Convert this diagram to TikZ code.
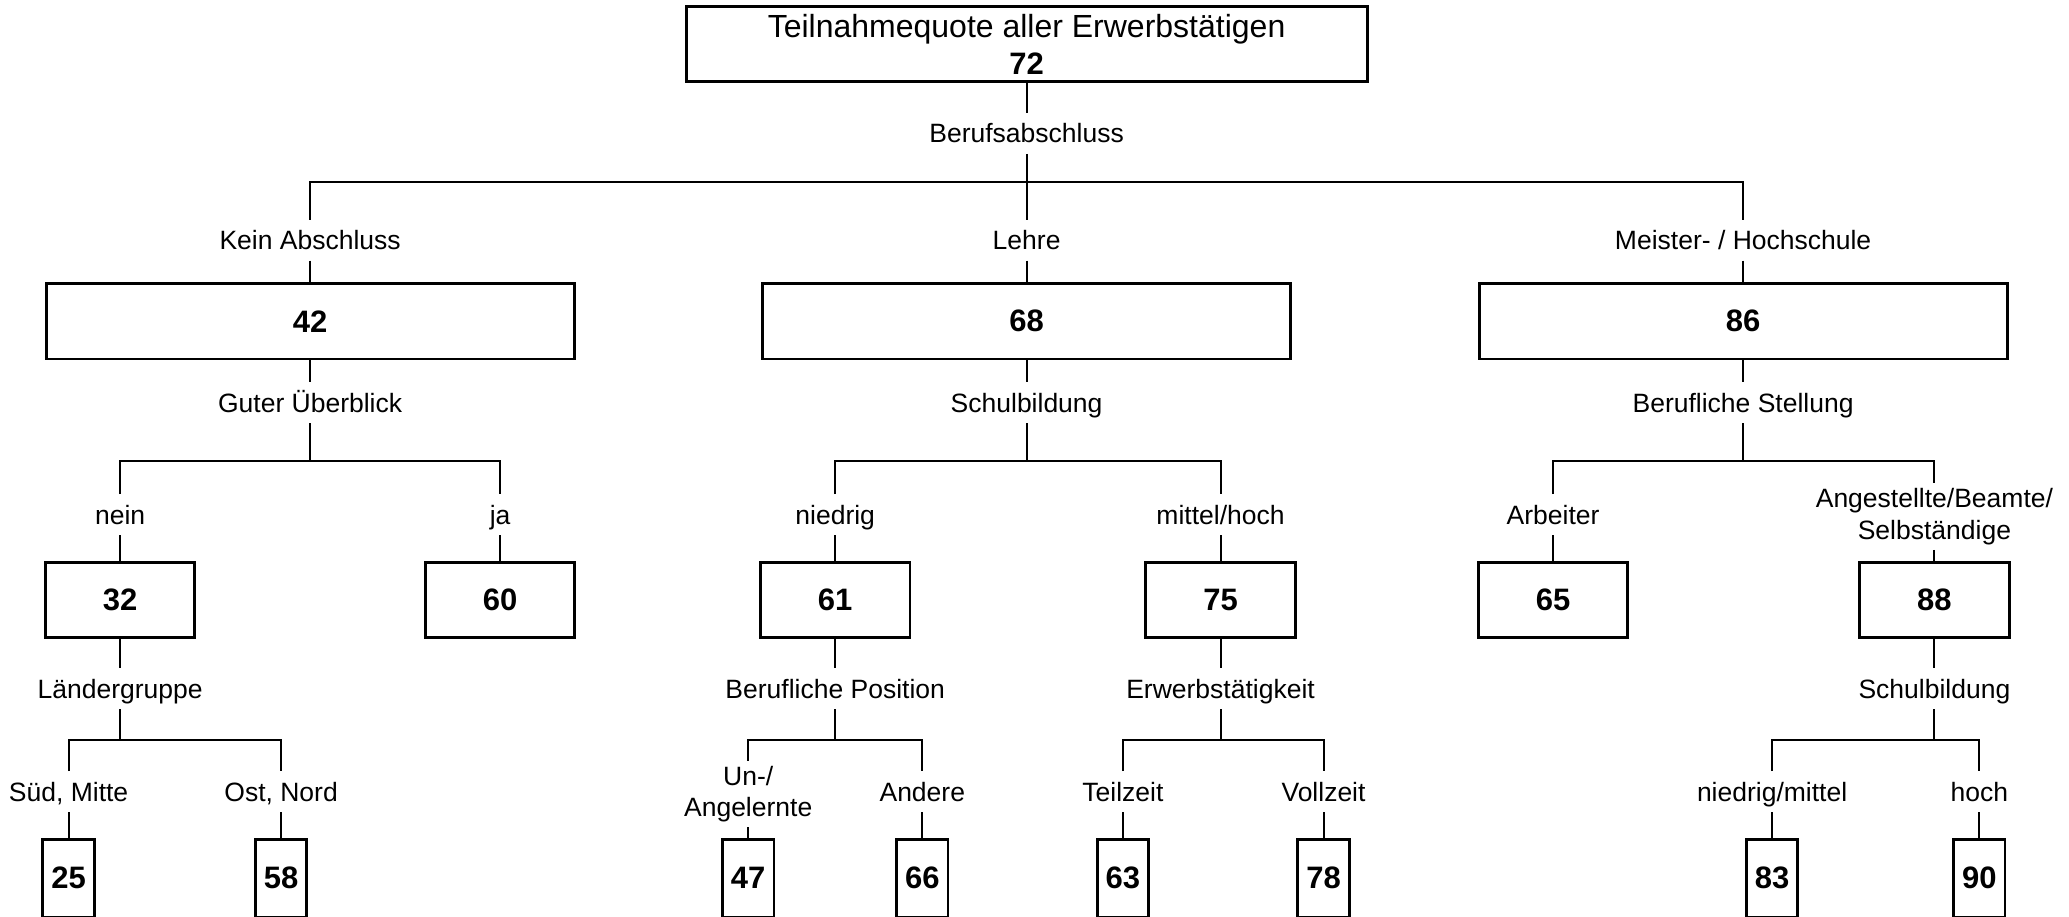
\documentclass[tikz,border=0pt]{standalone}
\usepackage{fontspec}
\setmainfont{Liberation Sans}
\begin{document}
\begin{tikzpicture}[x=1pt,y=-1pt,
  box/.style={draw, line width=2.8pt, inner sep=0pt, font=\fontsize{31}{37}\selectfont\bfseries},
  lab/.style={font=\fontsize{26.5}{31.6}\selectfont, inner sep=5pt, text height=24.9pt, text depth=5.9pt},
  labm/.style={font=\fontsize{26.5}{31.6}\selectfont, inner sep=5pt, align=center},
  conn/.style={line width=2pt}]
\useasboundingbox (0,0) rectangle (2069,916);
\clip (0,0) rectangle (2069,916);
% top
\node[box, minimum width=681, minimum height=75, align=center] (top) at (1026.6,44.2)
  {{\mdseries\fontsize{32}{37}\selectfont Teilnahmequote aller Erwerbstätigen}\\72};
\node[lab] (berufs) at (1026.6,133.3) {Berufsabschluss};
\coordinate (j0) at (1026.6,182.1);
\node[lab] (kein) at (310.1,240.1) {Kein Abschluss};
\node[lab] (lehre) at (1026.6,240.1) {Lehre};
\node[lab] (meister) at (1743.1,240.1) {Meister- / Hochschule};
\draw[conn] (top) -- (berufs);
\draw[conn] (berufs) -- (j0);
\draw[conn] (kein.north) |- (j0) -| (meister.north);
\draw[conn] (j0) -- (lehre);
% level 1 boxes
\node[box, minimum width=528, minimum height=75.2] (b42) at (310.1,321.3) {42};
\node[box, minimum width=528, minimum height=75.2] (b68) at (1026.6,321.3) {68};
\node[box, minimum width=528, minimum height=75.2] (b86) at (1743.1,321.3) {86};
\draw[conn] (kein) -- (b42);
\draw[conn] (lehre) -- (b68);
\draw[conn] (meister) -- (b86);
% level 1 labels
\node[lab] (guter) at (310.1,402.5) {Guter Überblick};
\node[lab] (schulA) at (1026.6,402.5) {Schulbildung};
\node[lab] (stell) at (1743.1,402.5) {Berufliche Stellung};
\draw[conn] (b42) -- (guter);
\draw[conn] (b68) -- (schulA);
\draw[conn] (b86) -- (stell);
\coordinate (j1) at (310.1,460.5);
\coordinate (j2) at (1026.6,460.5);
\coordinate (j3) at (1743.1,460.5);
\draw[conn] (guter) -- (j1);
\draw[conn] (schulA) -- (j2);
\draw[conn] (stell) -- (j3);
\node[lab] (nein) at (120.1,514.6) {nein};
\node[lab] (ja) at (500.1,514.6) {ja};
\node[lab] (niedrig) at (835.2,514.6) {niedrig};
\node[lab] (mittel) at (1220.5,514.6) {mittel/hoch};
\node[lab] (arbeiter) at (1553.1,514.6) {Arbeiter};
\node[labm] (angest) at (1934.4,516.6) {Angestellte/Beamte/\\Selbständige};
\draw[conn] (nein.north) |- (j1) -| (ja.north);
\draw[conn] (niedrig.north) |- (j2) -| (mittel.north);
\draw[conn] (arbeiter.north) |- (j3) -| (angest.north);
% level 2 boxes
\node[box, minimum width=149.5, minimum height=75.2] (b32) at (120.1,599.7) {32};
\node[box, minimum width=149.5, minimum height=75.2] (b60) at (500.1,599.7) {60};
\node[box, minimum width=149.5, minimum height=75.2] (b61) at (835.2,599.7) {61};
\node[box, minimum width=149.5, minimum height=75.2] (b75) at (1220.5,599.7) {75};
\node[box, minimum width=149.5, minimum height=75.2] (b65) at (1553.1,599.7) {65};
\node[box, minimum width=149.5, minimum height=75.2] (b88) at (1934.4,599.7) {88};
\draw[conn] (nein) -- (b32);
\draw[conn] (ja) -- (b60);
\draw[conn] (niedrig) -- (b61);
\draw[conn] (mittel) -- (b75);
\draw[conn] (arbeiter) -- (b65);
\draw[conn] (angest) -- (b88);
% level 2 labels
\node[lab] (laender) at (120.1,688.8) {Ländergruppe};
\node[lab] (berpos) at (835.2,688.8) {Berufliche Position};
\node[lab] (erwerb) at (1220.5,688.8) {Erwerbstätigkeit};
\node[lab] (schulB) at (1934.4,688.8) {Schulbildung};
\draw[conn] (b32) -- (laender);
\draw[conn] (b61) -- (berpos);
\draw[conn] (b75) -- (erwerb);
\draw[conn] (b88) -- (schulB);
\coordinate (j4) at (120.1,740.2);
\coordinate (j5) at (835.2,740.2);
\coordinate (j6) at (1220.5,740.2);
\coordinate (j7) at (1934.4,740.2);
\draw[conn] (laender) -- (j4);
\draw[conn] (berpos) -- (j5);
\draw[conn] (erwerb) -- (j6);
\draw[conn] (schulB) -- (j7);
\node[lab] (sued) at (68.6,791.7) {Süd, Mitte};
\node[lab] (ost) at (281.1,791.7) {Ost, Nord};
\node[labm] (unan) at (748.2,794) {Un-/\\Angelernte};
\node[lab] (andere) at (922.3,791.7) {Andere};
\node[lab] (teil) at (1122.9,791.7) {Teilzeit};
\node[lab] (voll) at (1323.5,791.7) {Vollzeit};
\node[lab] (niedmit) at (1772.1,791.7) {niedrig/mittel};
\node[lab] (hoch) at (1979.3,791.7) {hoch};
\draw[conn] (sued.north) |- (j4) -| (ost.north);
\draw[conn] (unan.north) |- (j5) -| (andere.north);
\draw[conn] (teil.north) |- (j6) -| (voll.north);
\draw[conn] (niedmit.north) |- (j7) -| (hoch.north);
% level 3 boxes (cut by the lower edge)
\node[box, minimum width=51.5, minimum height=78] (b25) at (68.6,878.2) {25};
\node[box, minimum width=51.5, minimum height=78] (b58) at (281.1,878.2) {58};
\node[box, minimum width=51.5, minimum height=78] (b47) at (748.2,878.2) {47};
\node[box, minimum width=51.5, minimum height=78] (b66) at (922.3,878.2) {66};
\node[box, minimum width=51.5, minimum height=78] (b63) at (1122.9,878.2) {63};
\node[box, minimum width=51.5, minimum height=78] (b78) at (1323.5,878.2) {78};
\node[box, minimum width=51.5, minimum height=78] (b83) at (1772.1,878.2) {83};
\node[box, minimum width=51.5, minimum height=78] (b90) at (1979.3,878.2) {90};
\draw[conn] (sued) -- (b25);
\draw[conn] (ost) -- (b58);
\draw[conn] (unan) -- (b47);
\draw[conn] (andere) -- (b66);
\draw[conn] (teil) -- (b63);
\draw[conn] (voll) -- (b78);
\draw[conn] (niedmit) -- (b83);
\draw[conn] (hoch) -- (b90);
\end{tikzpicture}
\end{document}
